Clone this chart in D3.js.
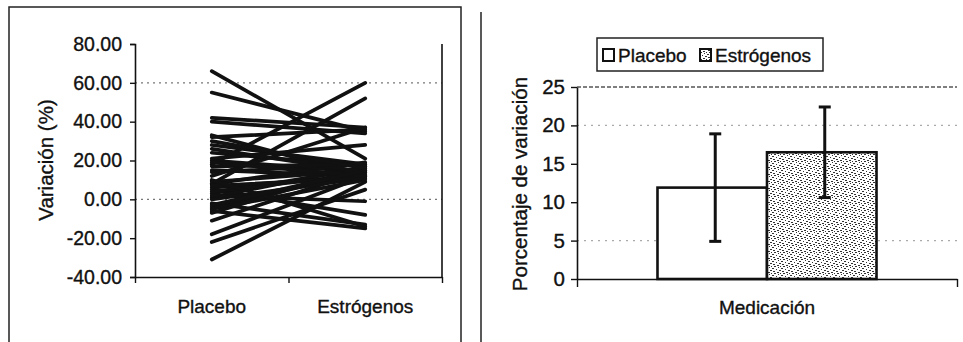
<!DOCTYPE html>
<html>
<head>
<meta charset="utf-8">
<script src="https://cdn.jsdelivr.net/npm/d3@7"></script>
<style>
  html, body { margin: 0; padding: 0; background: #fff; }
  svg { display: block; font-family: "Liberation Sans", Arial, sans-serif; }
  svg text { stroke: #111; stroke-width: 0.35px; }
</style>
</head>
<body>
<svg id="chart" width="963" height="342"></svg>
<script>
// ---- Left panel: paired change per subject ----
const pairCategories = ["Placebo", "Estrógenos"];
const placeboValues = [66, 55, 42, 40, 18, 8, -31, -22, -18, -11, 32, 28, 24, 21, 20, 15, 14, 33, 8, 6,
                       5, 3, 1, -2, -4, -6, 0, 9, 12, 26, -5, 2, 17, 4, -7, 30, 7, 10, 19, -3];
const estrogenValues = [21, 35, 37, 34, 60, 52, 9, 5, 12, 15, 36, 18, 17, 28, 14, 12, 18, 12, 19, 12,
                        -8, 16, 17, -13, 14, -15, 11, 15, 37, 14, 10, -1, 18, 13, 17, 16, 11, -14, 12, 15];
const leftTicks = [-40, -20, 0, 20, 40, 60, 80];
const leftTickLabels = ["-40.00", "-20.00", "0.00", "20.00", "40.00", "60.00", "80.00"];
const leftGrid = [60, 0];

// ---- Right panel: mean change with error bars ----
const barGroups = ["Medicación"];
const barSeries = ["Placebo", "Estrógenos"];
const barMeans = [11.9, 16.5];
const barErrors = [7.0, 5.9];
const rightTicks = [0, 5, 10, 15, 20, 25];
const rightGrid = [5, 20];

const svg = d3.select("#chart");
const ink = "#111";

// stippled fill for the estrogen bar
const defs = svg.append("defs");
const pat = defs.append("pattern").attr("id", "stipple")
  .attr("width", 9).attr("height", 7).attr("patternUnits", "userSpaceOnUse");
pat.append("rect").attr("width", 9).attr("height", 7).attr("fill", "#fff");
[[0,0,2,1],[4,1,1,1],[7,2,2,1],[2,3,1,1],[5,4,2,1],[0,5,1,1],[8,5,1,1],[3,6,2,1],[6,0,1,1]]
  .forEach(d => pat.append("rect").attr("x", d[0]).attr("y", d[1]).attr("width", d[2]).attr("height", d[3]).attr("fill", "#333"));

// panel frames
svg.append("rect").attr("x", 9).attr("y", 7).attr("width", 452).attr("height", 350)
  .attr("fill", "none").attr("stroke", "#222").attr("stroke-width", 1.5);
svg.append("line").attr("x1", 481).attr("x2", 481).attr("y1", 12).attr("y2", 342)
  .attr("stroke", "#222").attr("stroke-width", 1.5);

// ================= Left panel =================
const L = { left: 135, right: 442, top: 44, bottom: 277 };
const yL = d3.scaleLinear().domain([-40, 80]).range([L.bottom, L.top]);
const xL = d3.scalePoint().domain(pairCategories).range([L.left, L.right]).padding(0.5);
const xTickScale = d3.scaleLinear().domain([0, 2]).range([L.left, L.right]);

const gL = svg.append("g");

gL.selectAll("line.grid").data(leftGrid).join("line")
  .attr("class", "grid")
  .attr("x1", L.left).attr("x2", L.right)
  .attr("y1", d => yL(d)).attr("y2", d => yL(d))
  .attr("stroke", "#777").attr("stroke-width", 1.2).attr("stroke-dasharray", "2,4");

const pairs = placeboValues.map((p, i) => [p, estrogenValues[i]]);
gL.selectAll("line.pair").data(pairs).join("line")
  .attr("class", "pair")
  .attr("x1", xL(pairCategories[0])).attr("x2", xL(pairCategories[1]))
  .attr("y1", d => yL(d[0])).attr("y2", d => yL(d[1]))
  .attr("stroke", ink).attr("stroke-width", 3.7).attr("stroke-linecap", "round");

// y axis
const axL = gL.append("g").attr("transform", `translate(${L.left},0)`)
  .call(d3.axisLeft(yL).tickValues(leftTicks).tickSize(5).tickPadding(8)
    .tickFormat((d, i) => leftTickLabels[i]));
axL.select(".domain").attr("stroke", ink).attr("stroke-width", 1.6);
axL.selectAll(".tick line").attr("stroke", ink).attr("stroke-width", 1.4);
axL.selectAll(".tick text").attr("font-size", 19.5).attr("fill", ink).attr("font-family", null);

// right border of the plot area
gL.append("line").attr("x1", L.right).attr("x2", L.right).attr("y1", L.top).attr("y2", L.bottom)
  .attr("stroke", ink).attr("stroke-width", 1.6);

// x axis line with ticks
const axLx = gL.append("g").attr("transform", `translate(0,${L.bottom})`)
  .call(d3.axisBottom(xTickScale).tickValues([0, 1, 2]).tickSize(6).tickSizeOuter(0).tickFormat(""));
axLx.select(".domain").attr("stroke", ink).attr("stroke-width", 1.6);
axLx.selectAll(".tick line").attr("stroke", ink).attr("stroke-width", 1.4);

// category labels
gL.selectAll("text.cat").data(pairCategories).join("text")
  .attr("class", "cat")
  .attr("x", d => xL(d)).attr("y", 313)
  .attr("text-anchor", "middle").attr("font-size", 19).attr("fill", ink)
  .text(d => d);

gL.append("text")
  .attr("transform", "translate(53,160) rotate(-90)")
  .attr("text-anchor", "middle").attr("font-size", 20.5).attr("fill", ink)
  .text("Variación (%)");

// ================= Right panel =================
const R = { left: 577, right: 957, top: 87, bottom: 279 };
const yR = d3.scaleLinear().domain([0, 25]).range([R.bottom, R.top]);
const xGroup = d3.scaleBand().domain(barGroups).range([R.left, R.right]).paddingInner(0).paddingOuter(0.3675);
const xSeries = d3.scaleBand().domain(barSeries).range([0, xGroup.bandwidth()]);

const gR = svg.append("g");

gR.selectAll("line.grid").data(rightGrid).join("line")
  .attr("class", "grid")
  .attr("x1", R.left).attr("x2", R.right)
  .attr("y1", d => yR(d)).attr("y2", d => yR(d))
  .attr("stroke", "#aaa").attr("stroke-width", 1.1).attr("stroke-dasharray", "2,5");

// top border at 25
gR.append("line").attr("x1", R.left).attr("x2", R.right)
  .attr("y1", yR(25)).attr("y2", yR(25))
  .attr("stroke", "#555").attr("stroke-width", 1.3).attr("stroke-dasharray", "4,2");

const barData = barSeries.map((s, i) => ({ series: s, mean: barMeans[i], err: barErrors[i] }));
const gx = xGroup(barGroups[0]);

gR.selectAll("rect.bar").data(barData).join("rect")
  .attr("class", "bar")
  .attr("x", d => gx + xSeries(d.series))
  .attr("y", d => yR(d.mean))
  .attr("width", xSeries.bandwidth())
  .attr("height", d => yR(0) - yR(d.mean))
  .attr("fill", (d, i) => i === 0 ? "#fff" : "url(#stipple)")
  .attr("stroke", ink).attr("stroke-width", 2.6);

// error bars
const eb = gR.selectAll("g.err").data(barData).join("g").attr("class", "err")
  .attr("transform", d => `translate(${gx + xSeries(d.series) + xSeries.bandwidth() / 2 + 3},0)`);
eb.append("line").attr("x1", 0).attr("x2", 0)
  .attr("y1", d => yR(d.mean + d.err)).attr("y2", d => yR(d.mean - d.err))
  .attr("stroke", ink).attr("stroke-width", 3);
eb.append("line").attr("x1", -6).attr("x2", 6)
  .attr("y1", d => yR(d.mean + d.err)).attr("y2", d => yR(d.mean + d.err))
  .attr("stroke", ink).attr("stroke-width", 3);
eb.append("line").attr("x1", -6).attr("x2", 6)
  .attr("y1", d => yR(d.mean - d.err)).attr("y2", d => yR(d.mean - d.err))
  .attr("stroke", ink).attr("stroke-width", 3);

// axes
const axR = gR.append("g").attr("transform", `translate(${R.left},0)`)
  .call(d3.axisLeft(yR).tickValues(rightTicks).tickSize(6).tickPadding(6).tickSizeOuter(0));
axR.select(".domain").attr("stroke", ink).attr("stroke-width", 1.6);
axR.selectAll(".tick line").attr("stroke", ink).attr("stroke-width", 1.4);
axR.selectAll(".tick text").attr("font-size", 20.5).attr("fill", ink).attr("font-family", null);

const axRx = gR.append("g").attr("transform", `translate(0,${R.bottom})`)
  .call(d3.axisBottom(d3.scaleLinear().domain([0, 1]).range([R.left, R.right]))
    .tickValues([0, 1]).tickSize(8).tickSizeOuter(0).tickFormat(""));
axRx.select(".domain").attr("stroke", ink).attr("stroke-width", 1.6);
axRx.selectAll(".tick line").attr("stroke", ink).attr("stroke-width", 1.4);

gR.append("text").attr("x", (R.left + R.right) / 2).attr("y", 314)
  .attr("text-anchor", "middle").attr("font-size", 19).attr("fill", ink)
  .text(barGroups[0]);

gR.append("text")
  .attr("transform", "translate(527,184) rotate(-90)")
  .attr("text-anchor", "middle").attr("font-size", 20.5).attr("fill", ink)
  .text("Porcentaje de variación");

// legend
const lg = gR.append("g").attr("transform", "translate(597,38)");
lg.append("rect").attr("width", 226).attr("height", 33)
  .attr("fill", "#fff").attr("stroke", "#222").attr("stroke-width", 1.5);
const legendX = [6, 103];
const items = lg.selectAll("g.item").data(barSeries).join("g").attr("class", "item")
  .attr("transform", (d, i) => `translate(${legendX[i]},0)`);
items.append("rect").attr("x", 0).attr("y", 11).attr("width", 11).attr("height", 12)
  .attr("fill", (d, i) => i === 0 ? "#fff" : "url(#stipple)")
  .attr("stroke", ink).attr("stroke-width", 2);
items.append("text").attr("x", 15).attr("y", 24)
  .attr("font-size", 19).attr("fill", ink).text(d => d);
</script>
</body>
</html>
